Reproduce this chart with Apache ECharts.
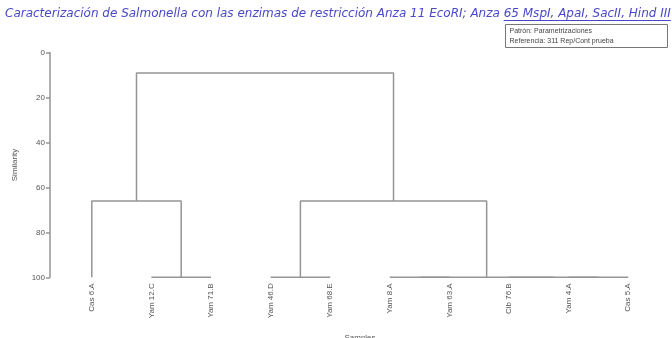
<!DOCTYPE html>
<html>
<head>
<meta charset="utf-8">
<script src="https://cdn.jsdelivr.net/npm/echarts@6/dist/echarts.min.js"></script>
<style>
  html, body { margin: 0; padding: 0; background: #fff; }
  #chart { width: 672px; height: 338px; }
</style>
</head>
<body>
<div id="chart"></div>
<script>
// Samples (dendrogram leaves, in drawing order)
const leaves = ['Cas 6.A', 'Yam 12.C', 'Yam 71.B', 'Yam 46.D', 'Yam 68.E',
                'Yam 8.A', 'Yam 63.A', 'Cib 76.B', 'Yam 4.A', 'Cas 5.A'];

// Agglomeration steps: [left child, right child, similarity].
// Children < leaves.length are samples; the rest are earlier steps (id = leaves.length + step index).
const mergeLeft  = [1, 3, 5, 8, 7, 12, 0, 11, 16];
const mergeRight = [2, 4, 6, 9, 13, 14, 10, 15, 17];
const mergeSim   = [100, 100, 100, 100, 100, 100, 66, 66, 9];

const yTicks = [0, 20, 40, 60, 80, 100];

const titleHead = 'Caracterización de Salmonella con las enzimas de restricción Anza 11 EcoRI; Anza ';
const titleLink = '65 MspI, ApaI, SacII, Hind III';
const infoLines = ['Patrón: Parametrizaciones', 'Referencia: 311 Rep/Cont prueba'];

// Horizontal position and height of every node
const nodeX = leaves.map((_, i) => i);
const nodeY = leaves.map(() => 100);
mergeSim.forEach((s, k) => {
  const a = mergeLeft[k], b = mergeRight[k];
  nodeX.push((nodeX[a] + nodeX[b]) / 2);
  nodeY.push(s);
});

// One bracket (three segments) per merge
const lineColor = '#959595';
const bracketSeries = mergeSim.map((s, k) => {
  const a = mergeLeft[k], b = mergeRight[k];
  return {
    type: 'line',
    xAxisIndex: 1,
    yAxisIndex: 0,
    symbol: 'none',
    silent: true,
    animation: false,
    lineStyle: { color: lineColor, width: 1.5 },
    data: [[nodeX[a], nodeY[a]], [nodeX[a], s], [nodeX[b], s], [nodeX[b], nodeY[b]]]
  };
});

const textColor = '#555';
const titleColor = '#4848c8';
const font = 'Liberation Sans, Arial, sans-serif';
const titleFont = 'DejaVu Sans, Verdana, sans-serif';
const titleSize = 12;
const titleX = 5, titleY = 8;

// Measure the title so the linked part can be underlined
function textWidth(str) {
  const t = new echarts.graphic.Text({
    style: { text: str, fontSize: titleSize, fontStyle: 'italic', fontFamily: titleFont }
  });
  return t.getBoundingRect().width;
}
const linkStart = titleX + textWidth(titleHead);
const linkEnd = linkStart + textWidth(titleLink);
const underlineY = titleY + titleSize + 0.5;

const chart = echarts.init(document.getElementById('chart'), null, { renderer: 'canvas' });
chart.setOption({
  backgroundColor: '#fff',
  animation: false,
  grid: { left: 62, right: 14, top: 52.7, bottom: 60.7, containLabel: false, outerBoundsMode: 'none' },
  xAxis: [
    {
      type: 'category',
      data: leaves,
      boundaryGap: true,
      axisLine: { show: false },
      axisTick: { show: false },
      axisLabel: { rotate: 90, fontSize: 8, color: textColor, margin: 6, fontFamily: font, interval: 0 },
      name: 'Samples',
      nameLocation: 'middle',
      nameGap: 56,
      nameTextStyle: { fontSize: 8, color: textColor, fontFamily: font }
    },
    {
      type: 'value',
      min: -0.5,
      max: leaves.length - 0.5,
      show: false
    }
  ],
  yAxis: {
    type: 'value',
    inverse: true,
    min: 0,
    max: 100,
    interval: 20,
    offset: 12,
    splitLine: { show: false },
    axisLine: { show: true, onZero: false, lineStyle: { color: lineColor, width: 1.5 } },
    axisTick: { show: true, length: 4, lineStyle: { color: lineColor, width: 1.5 } },
    axisLabel: {
      fontSize: 8, color: textColor, margin: 5, fontFamily: font,
      formatter: v => (yTicks.includes(v) ? String(v) : '')
    },
    name: 'Similarity',
    nameLocation: 'middle',
    nameRotate: 90,
    nameGap: 31,
    nameTextStyle: { fontSize: 8, color: textColor, fontFamily: font }
  },
  graphic: [
    {
      type: 'text',
      x: titleX,
      y: titleY,
      silent: true,
      style: {
        text: titleHead + titleLink,
        fontSize: titleSize, fontStyle: 'italic', fontFamily: titleFont, fill: titleColor
      }
    },
    {
      type: 'line',
      shape: { x1: linkStart, y1: underlineY, x2: linkEnd, y2: underlineY },
      style: { stroke: titleColor, lineWidth: 1 },
      silent: true
    },
    {
      type: 'group',
      left: 505,
      top: 24,
      children: [
        { type: 'rect', shape: { x: 0, y: 0, width: 162, height: 23 }, style: { fill: '#fff', stroke: '#777', lineWidth: 1 } },
        { type: 'text', x: 4, y: 3, style: { text: infoLines[0], fontSize: 7, fill: '#444', fontFamily: font } },
        { type: 'text', x: 4, y: 13, style: { text: infoLines[1], fontSize: 7, fill: '#444', fontFamily: font } }
      ]
    }
  ],
  series: bracketSeries
});
</script>
</body>
</html>
